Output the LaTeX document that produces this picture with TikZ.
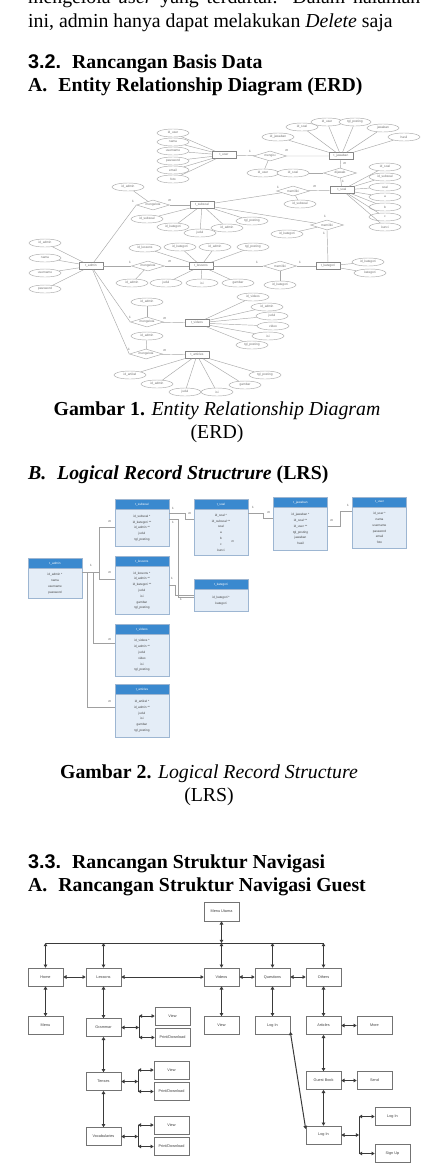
\documentclass[tikz,border=0pt]{standalone}
\usepackage{fontspec}
\setmainfont{Liberation Serif}
\newfontfamily\hsans{Liberation Sans}
\usetikzlibrary{shapes.geometric,arrows.meta}
\definecolor{erdline}{HTML}{A8A8A8}
\definecolor{erdtext}{HTML}{707070}
\definecolor{lrshd}{HTML}{3A89CF}
\definecolor{lrsbd}{HTML}{E4EDF7}
\definecolor{lrsbr}{HTML}{9DB6D2}
\definecolor{lrsln}{HTML}{A0A0A0}
\definecolor{navln}{HTML}{3A3A3A}
\newcommand{\erdf}{\hsans\fontsize{3.2}{3.6}\selectfont}
\newcommand{\lrsf}{\hsans\fontsize{3.1}{5.8}\selectfont}
\newcommand{\navf}{\hsans\fontsize{3.8}{4.4}\selectfont}
\newcommand{\bodyf}{\fontsize{19.8}{24}\selectfont}
\begin{document}
\begin{tikzpicture}[x=1pt,y=-1pt,
  txt/.style={anchor=base west,inner sep=0,font=\bodyf},
  hd/.style={anchor=base west,inner sep=0,font=\bodyf\bfseries},
  captxt/.style={anchor=base,inner sep=0,font=\bodyf},
  erattr/.style={ellipse,draw=erdline,fill=white,line width=0.45pt,minimum width=32pt,minimum height=8pt,inner sep=0,font=\erdf,text=erdtext},
  erent/.style={rectangle,draw=erdline!80!black,fill=white,line width=0.5pt,minimum width=24pt,minimum height=7pt,inner sep=0,font=\erdf,text=erdtext},
  errel/.style={diamond,draw=erdline,fill=white,line width=0.45pt,aspect=3.3,minimum width=33pt,minimum height=10pt,inner sep=0.3pt,font=\erdf,text=erdtext},
  erl/.style={draw=erdline,line width=0.45pt},
  erlbl/.style={inner sep=0,font=\erdf,text=erdtext!80!black},
  lhead/.style={draw=lrsbr,fill=lrshd,text=white,minimum width=54pt,minimum height=10pt,inner sep=0,font=\lrsf,anchor=north},
  lbody/.style={draw=lrsbr,fill=lrsbd,text=black!75,minimum width=54pt,inner sep=0,align=center,font=\lrsf,anchor=north},
  lln/.style={draw=lrsln,line width=0.6pt},
  llbl/.style={inner sep=0,font=\lrsf,text=black!70},
  navbox/.style={draw=black!55,fill=white,line width=0.6pt,minimum width=35pt,minimum height=18pt,inner sep=0,font=\navf,text=black!75},
  navarr/.style={<->,draw=navln,line width=1pt,>={Triangle[length=3.2pt,width=3.6pt]}},
  navline/.style={draw=navln,line width=1pt}]
\clip (0,0) rectangle (423,1176);
\fill[white] (0,0) rectangle (423,1176);

% ---------- running text ----------
\node[txt] (t1) at (28,3) {\makebox[392pt][s]{mengelola \textit{user} yang terdaftar. Dalam halaman}};
\node[txt] (t2) at (28,27) {ini, admin hanya dapat melakukan \textit{Delete} saja};
\node[hd] (h32) at (28,68) {{\hsans 3.2.}\hspace{0.55em}Rancangan Basis Data};
\node[hd] (h32a) at (28,91) {A.\hspace{0.55em}Entity Relationship Diagram (ERD)};

% ---------- ERD ----------
\node[erent] (eUser) at (224,155) {t\_user};
\node[erent] (eJaw) at (341,156) {t\_jawaban};
\node[erent] (eSoal) at (342,190) {t\_soal};
\node[erent] (eSub) at (202,205) {t\_subsoal};
\node[erent] (eAdmin) at (91,266) {t\_admin};
\node[erent] (eLes) at (201,266) {t\_lessons};
\node[erent] (eKat) at (328,266) {t\_kategori};
\node[erent] (eVid) at (197,323) {t\_videos};
\node[erent] (eArt) at (197,355) {t\_articles};

\node[errel] (rUJ) at (270,156) {mengisi};
\node[errel] (rJS) at (340,173) {dijawab};
\node[errel] (rSS) at (293,191) {memiliki};
\node[errel] (rAS) at (153,205) {mengelola};
\node[errel] (rSK) at (327,225) {memiliki};
\node[errel] (rAL) at (148,266) {mengelola};
\node[errel] (rLK) at (280,266) {memiliki};
\node[errel] (rAV) at (147,322) {mengelola};
\node[errel] (rAA) at (146,354) {mengelola};

\draw[erl] (eUser) -- (rUJ) -- (eJaw);
\draw[erl] (eJaw) -- (rJS) -- (eSoal);
\draw[erl] (eSub) -- (rSS) -- (eSoal);
\draw[erl] (eAdmin) -- (rAS.west);
\draw[erl] (rAS) -- (eSub);
\draw[erl] (eSub) -- (rSK);
\draw[erl] (rSK.south) -- (eKat.north);
\draw[erl] (eAdmin) -- (rAL) -- (eLes);
\draw[erl] (eLes) -- (rLK) -- (eKat);
\draw[erl] (eAdmin) -- (rAV.west);
\draw[erl] (rAV) -- (eVid);
\draw[erl] (eAdmin) -- (rAA.west);
\draw[erl] (rAA) -- (eArt);

\foreach \n/\x/\y/\t/\e in {
  uA1/173/133/id\_user/eUser, uA2/173/142/nama/eUser, uA3/173/151/username/eUser,
  uA4/173/161/password/eUser, uA5/173/170/email/eUser, uA6/173/179/foto/eUser,
  jA1/278/137/id\_jawaban/eJaw, jA2/302/127/id\_soal/eJaw, jA3/327/122/id\_user/eJaw,
  jA4/355/122/tgl\_posting/eJaw, jA5/383/128/jawaban/eJaw, jA6/404/137/hasil/eJaw,
  sA1/385/167/id\_soal/eSoal, sA2/385/177/id\_subsoal/eSoal, sA3/385/187/soal/eSoal,
  sA4/385/197/a/eSoal, sA5/385/207/b/eSoal, sA6/385/217/c/eSoal, sA7/385/227/kunci/eSoal,
  bA1/147/219/id\_subsoal/eSub, bA2/173/227/id\_kategori/eSub, bA3/200/233/judul/eSub,
  bA4/227/228/id\_admin/eSub, bA5/252/221/tgl\_posting/eSub,
  aA1/45/243/id\_admin/eAdmin, aA2/45/258/nama/eAdmin, aA3/45/273/username/eAdmin,
  aA4/45/289/password/eAdmin,
  lA1/145/248/id\_lessons/eLes, lA2/180/247/id\_kategori/eLes, lA3/215/247/id\_admin/eLes,
  lA4/253/247/tgl\_posting/eLes, lA5/166/283/judul/eLes, lA6/202/283/isi/eLes,
  lA7/238/283/gambar/eLes,
  kA1/368/262/id\_kategori/eKat, kA2/370/273/kategori/eKat,
  vA1/253/297/id\_videos/eVid, vA2/267/307/id\_admin/eVid, vA3/272/316/judul/eVid,
  vA4/273/326/video/eVid, vA5/268/336/isi/eVid, vA6/252/345/tgl\_posting/eVid,
  rA1/130/375/id\_artikel/eArt, rA2/157/384/id\_admin/eArt, rA3/185/392/judul/eArt,
  rA4/217/392/isi/eArt, rA5/245/385/gambar/eArt, rA6/265/375/tgl\_posting/eArt,
  xA1/263/173/id\_user/rUJ, xA2/293/173/id\_soal/rJS, xA3/300/204/id\_subsoal/rSS,
  xA4/128/187/id\_admin/rAS, xA5/287/234/id\_kategori/rSK, xA6/132/283/id\_admin/rAL,
  xA7/280/285/id\_kategori/rLK, xA8/147/302/id\_admin/rAV, xA9/147/336/id\_admin/rAA}
{ \node[erattr] (\n) at (\x,\y) {\t}; \draw[erl] (\e) -- (\n); }

\foreach \n/\x/\y/\t in {c1/250/151/1, c2/287/151/m, c3/345/164/m, c4/343/181/1,
  c5/278/187/1, c6/315/187/m, c7/133/201/1, c8/170/201/m, c9/325/216/1, c10/324/233/1,
  c11/130/262/1, c12/170/262/m, c13/257/262/1, c14/300/262/1, c15/130/317/1,
  c16/165/319/m, c17/129/349/1, c18/165/351/m}
{ \node[erlbl] (\n) at (\x,\y) {\t}; }

% ---------- ERD caption ----------
\node[captxt] (cap1) at (217,415) {\textbf{Gambar 1.} \textit{Entity Relationship Diagram}};
\node[captxt] (cap1b) at (217,438) {(ERD)};

\node[hd] (hB) at (28,479) {\textit{B.\hspace{0.55em}Logical Record Structrure} (LRS)};

% ---------- LRS ----------
\node[lhead] (hSub) at (142,499) {t\_subsoal};
\node[lbody,minimum height=37pt] (bSub) at (hSub.south) {id\_subsoal *\\id\_kategori **\\id\_admin **\\judul\\tgl\_posting};
\node[lhead] (hSoal) at (221,499) {t\_soal};
\node[lbody,minimum height=46pt] (bSoal) at (hSoal.south) {id\_soal *\\id\_subsoal **\\soal\\a\\b\\c\\kunci};
\node[lhead] (hJaw) at (300.5,497) {t\_jawaban};
\node[lbody,minimum height=43pt] (bJaw) at (hJaw.south) {id\_jawaban *\\id\_soal **\\id\_user **\\tgl\_posting\\jawaban\\hasil};
\node[lhead] (hUser) at (379.5,497) {t\_user};
\node[lbody,minimum height=41pt] (bUser) at (hUser.south) {id\_user *\\nama\\username\\password\\email\\foto};
\node[lhead] (hAdm) at (55,558) {t\_admin};
\node[lbody,minimum height=30pt] (bAdm) at (hAdm.south) {id\_admin *\\nama\\username\\password};
\node[lhead] (hLes) at (142,556) {t\_lessons};
\node[lbody,minimum height=48pt] (bLes) at (hLes.south) {id\_lessons *\\id\_admin **\\id\_kategori **\\judul\\isi\\gambar\\tgl\_posting};
\node[lhead] (hKat) at (221,579) {t\_kategori};
\node[lbody,minimum height=22pt] (bKat) at (hKat.south) {id\_kategori *\\kategori};
\node[lhead] (hVid) at (142,624) {t\_videos};
\node[lbody,minimum height=42pt] (bVid) at (hVid.south) {id\_videos *\\id\_admin **\\judul\\video\\isi\\tgl\_posting};
\node[lhead] (hArt) at (142,684) {t\_articles};
\node[lbody,minimum height=43pt] (bArt) at (hArt.south) {id\_artikel *\\id\_admin **\\judul\\isi\\gambar\\tgl\_posting};

\coordinate (aOut) at (bAdm.east |- 0,572);
\draw[lln] (aOut) -- (99,572) |- (bSub.west |- 0,527);
\draw[lln] (99,572) |- (bLes.west |- 0,579);
\draw[lln] (aOut) -| (93,643) -- (bVid.west |- 0,643);
\draw[lln] (aOut) -| (87,707) -- (bArt.west |- 0,707);
\draw[lln] (bSub.east |- 0,513) -- (185,513) |- (bSoal.west |- 0,519);
\draw[lln] (bSub.east |- 0,519) -- (178,519) |- (bKat.west |- 0,597);
\draw[lln] (bLes.east |- 0,585) -- (175,585) |- (bKat.west |- 0,595);
\draw[lln] (bSoal.east |- 0,513) -- (263,513) |- (bJaw.west |- 0,518);
\draw[lln] (bJaw.east |- 0,526) -- (340,526) |- (bUser.west |- 0,511);

\foreach \n/\x/\y/\t in {k1/91/565/1, k2/110/522/m, k3/110/573/m, k4/110/640/m,
  k5/110/702/m, k6/173/508/1, k7/190/514/m, k8/173/522/1, k9/172/578/1, k10/181/599/1,
  k11/253/507/1, k12/269/513/m, k13/332/521/m, k14/348/505/1, k15/233/542/m}
{ \node[llbl] (\n) at (\x,\y) {\t}; }

\node[captxt] (cap2) at (209,778) {\textbf{Gambar 2.} \textit{Logical Record Structure}};
\node[captxt] (cap2b) at (209,801) {(LRS)};

\node[hd] (h33) at (28,868) {{\hsans 3.3.}\hspace{0.55em}Rancangan Struktur Navigasi};
\node[hd] (h33a) at (28,891) {A.\hspace{0.55em}Rancangan Struktur Navigasi Guest};

% ---------- Navigation ----------
\node[navbox,minimum height=19pt] (nMenu) at (221.5,911.5) {Menu Utama};
\node[navbox] (nHome) at (45.5,977) {Home};
\node[navbox] (nLes) at (103.5,977) {Lessons};
\node[navbox] (nVid) at (221.5,977) {Videos};
\node[navbox] (nQue) at (272.5,977) {Questions};
\node[navbox] (nOth) at (323.5,977) {Others};
\node[navbox] (nMenu2) at (45.5,1025.5) {Menu};
\node[navbox] (nGram) at (103.5,1027.5) {Grammar};
\node[navbox] (nVView) at (221.5,1025.5) {View};
\node[navbox] (nLog1) at (272.5,1025.5) {Log In};
\node[navbox] (nArt) at (323.5,1025.5) {Articles};
\node[navbox] (nMore) at (374.5,1025.5) {More};
\node[navbox] (nGV) at (172.5,1016) {View};
\node[navbox] (nGP) at (172.5,1037.5) {Print/Download};
\node[navbox] (nTen) at (103.5,1081.5) {Tenses};
\node[navbox] (nTV) at (171.5,1070) {View};
\node[navbox] (nTP) at (171.5,1091.5) {Print/Download};
\node[navbox] (nVoc) at (103.5,1136.5) {Vocabularies};
\node[navbox] (nVV) at (171.5,1125) {View};
\node[navbox] (nVP) at (171.5,1146.5) {Print/Download};
\node[navbox] (nGB) at (323.5,1080.5) {Guest Book};
\node[navbox] (nSend) at (374.5,1080.5) {Send};
\node[navbox] (nLog2) at (323.5,1135) {Log In};
\node[navbox] (nLog3) at (392.5,1116.5) {Log In};
\node[navbox] (nSign) at (392.5,1153.5) {Sign Up};

\coordinate (bus) at (221.5,943);
\draw[navline] (nHome.north |- bus) -- (nOth.north |- bus);
\draw[navarr] (nMenu.south) -- (bus);
\draw[navarr] (bus) -- (nVid.north);
\foreach \b in {nHome,nLes,nQue,nOth}
  { \draw[navarr] (\b.north |- bus) -- (\b.north); }
\draw[navarr] (nHome) -- (nLes);
\draw[navarr] (nLes) -- (nVid);
\draw[navarr] (nVid) -- (nQue);
\draw[navarr] (nQue) -- (nOth);
\draw[navarr] (nHome) -- (nMenu2);
\draw[navarr] (nLes) -- (nGram);
\draw[navarr] (nVid) -- (nVView);
\draw[navarr] (nQue) -- (nLog1);
\draw[navarr] (nOth) -- (nArt);
\draw[navarr] (nArt) -- (nMore);
\draw[navarr] (nGram) -- (nTen);
\draw[navarr] (nTen) -- (nVoc);
\draw[navarr] (nArt) -- (nGB);
\draw[navarr] (nGB) -- (nSend);
\draw[navarr] (nGB) -- (nLog2);
\draw[navarr] ([yshift=3pt]nLog1.south east) -- ([yshift=6pt]nLog2.west);

\foreach \src/\up/\dn/\fx in {nGram/nGV/nGP/139, nTen/nTV/nTP/138, nVoc/nVV/nVP/138, nLog2/nLog3/nSign/359}
{
  \coordinate (f\src) at (\fx,0);
  \draw[navarr] (\src.east) -- (f\src |- \src.east);
  \draw[navline] (f\src |- \up.west) -- (f\src |- \dn.west);
  \draw[navarr] (f\src |- \up.west) -- (\up.west);
  \draw[navarr] (f\src |- \dn.west) -- (\dn.west);
}
\end{tikzpicture}
\end{document}
